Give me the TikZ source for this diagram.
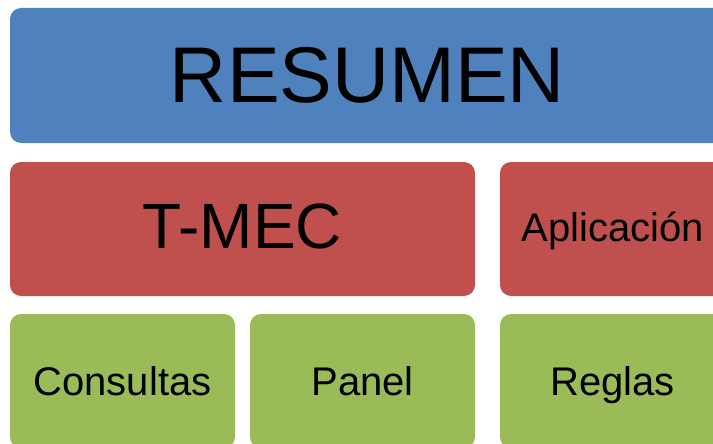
\documentclass[tikz,border=0pt]{standalone}
\usepackage{fontspec}
\setmainfont{Liberation Sans}
\definecolor{boxblue}{HTML}{4F81BD}
\definecolor{boxred}{HTML}{C0504D}
\definecolor{boxgreen}{HTML}{9BBB59}

\begin{document}
\begin{tikzpicture}[x=1pt,y=-1pt,
    tile/.style={rounded corners=11pt,inner sep=0pt,minimum height=134pt,minimum width=225pt,text=black},
    bigtext/.style={font=\fontsize{79}{88}\selectfont,text height=56.6pt,text depth=2pt},
    midtext/.style={font=\fontsize{64}{72}\selectfont,text height=45.8pt,text depth=7pt},
    smalltext/.style={font=\fontsize{40}{46}\selectfont,text height=28.6pt,text depth=0pt}]
            \useasboundingbox (0,0) rectangle (713,444);
            \clip (0,0) rectangle (713,444);
            % top row
            \node[tile,fill=boxblue,minimum width=715pt,minimum height=135pt,bigtext] (resumen) at (367.5,75.5) {RESUMEN};
            % middle row
            \node[tile,fill=boxred,minimum width=465pt,midtext] (tmec) at (242.5,229) {T-MEC};
            \node[tile,fill=boxred,smalltext,text depth=4pt] (aplicacion) at (612.5,229) {Aplicación};
            % bottom row
            \node[tile,fill=boxgreen,smalltext] (consultas) at (122.5,381) {Consultas};
            \node[tile,fill=boxgreen,smalltext] (panel) at (362.5,381) {Panel};
            \node[tile,fill=boxgreen,smalltext] (reglas) at (612.5,381) {Reglas};
        \end{tikzpicture}
\end{document}
